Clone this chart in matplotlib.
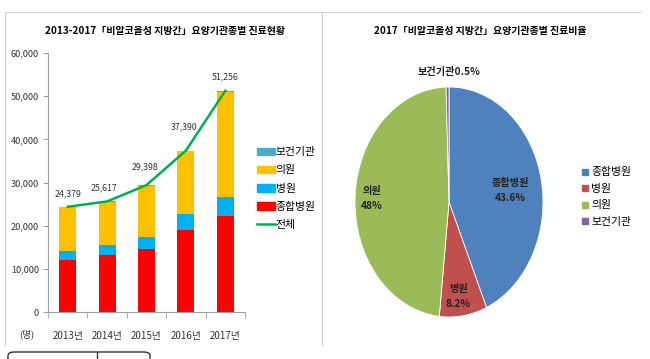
import matplotlib.pyplot as plt
import numpy as np
from matplotlib.patches import Patch, FancyBboxPatch
from matplotlib.lines import Line2D

plt.rcParams['font.family'] = ['Noto Sans CJK KR', 'DejaVu Sans']

# data
years = ['2013년', '2014년', '2015년', '2016년', '2017년']
general = [12000, 13100, 14700, 18900, 22350]   # 종합병원
hospital = [2200, 2500, 2700, 3700, 4200]       # 병원
clinic = [10030, 9860, 11830, 14600, 24450]     # 의원
health = [149, 157, 168, 190, 256]              # 보건기관
total = [24379, 25617, 29398, 37390, 51256]     # 전체

pie_labels = ['종합병원', '병원', '의원', '보건기관']
pie_values = [43.6, 8.2, 48.0, 0.5]

c_general = '#FF0000'
c_hosp = '#00B0F0'
c_clinic = '#FFC000'
c_health = '#4BACC6'
c_line = '#00B050'

fig = plt.figure(figsize=(6.5, 3.59), dpi=100)
W, H = 650, 359

def fx(px):
    return px / W

def fy(py):
    return 1 - py / H

# frame lines
border = '#D0D0D0'
fig.add_artist(Line2D([fx(5), fx(640)], [fy(12), fy(12)], color=border, lw=0.8))
fig.add_artist(Line2D([fx(5), fx(5)], [fy(12), fy(345)], color=border, lw=0.8))
fig.add_artist(Line2D([fx(322), fx(322)], [fy(12), fy(345)], color=border, lw=0.8))
fig.add_artist(FancyBboxPatch((fx(8), fy(366)), fx(142), 14 / H, boxstyle='round,pad=0,rounding_size=0.01',
                              transform=fig.transFigure, fill=False, ec='#333333', lw=1.0))
fig.add_artist(Line2D([fx(97), fx(97)], [fy(352), fy(359)], color='#333333', lw=1.0))

# ---- bar chart ----
ax = fig.add_axes([fx(48), fy(312), fx(245) - fx(48), (312 - 53) / H])
x = np.arange(len(years))
bw = 0.43
b1 = np.array(general)
b2 = b1 + np.array(hospital)
b3 = b2 + np.array(clinic)
ax.bar(x, general, bw, color=c_general, zorder=2)
ax.bar(x, hospital, bw, bottom=b1, color=c_hosp, zorder=2)
ax.bar(x, clinic, bw, bottom=b2, color=c_clinic, zorder=2)
ax.bar(x, health, bw, bottom=b3, color=c_health, zorder=2)
ax.plot(x, total, color=c_line, lw=1.8, zorder=3)
# label offsets above the points (points)
offs = [(0, 9), (-2, 10), (-1, 13), (-1, 17), (0, 10)]
for xi, t, o in zip(x, total, offs):
    ax.annotate(f'{t:,}', (xi, t), xytext=o, textcoords='offset points',
                ha='center', va='center', fontsize=6.3, color='#333333')

ax.set_xlim(-0.5, 4.5)
ax.set_ylim(0, 60000)
ax.set_yticks(range(0, 60001, 10000))
ax.set_yticklabels([f'{v:,}' for v in range(0, 60001, 10000)], fontsize=6.6, color='#333333')
ax.set_xticks(x)
ax.set_xticklabels(years, fontsize=7, color='#333333')
ax.set_xticks(np.arange(-0.5, 5, 1), minor=True)
ax.tick_params(axis='x', which='major', length=0, pad=14)
ax.tick_params(axis='x', which='minor', length=4, color='#A0A0A0')
ax.tick_params(axis='y', length=3.5, color='#A0A0A0', pad=3)
for s in ['top', 'right']:
    ax.spines[s].set_visible(False)
ax.spines['left'].set_color('#A0A0A0')
ax.spines['bottom'].set_color('#A0A0A0')
fig.text(fx(27), fy(334), '(명)', fontsize=6.8, ha='center', va='center', color='#333333')
fig.text(fx(165), fy(31), '2013-2017「비알코올성 지방간」요양기관종별 진료현황', fontsize=7.2,
         fontweight='bold', ha='center', va='center')

handles = [Patch(color=c_health), Patch(color=c_clinic), Patch(color=c_hosp),
           Patch(color=c_general), Line2D([], [], color=c_line, lw=1.8)]
names = ['보건기관', '의원', '병원', '종합병원', '전체']
fig.legend(handles, names, loc='upper left', bbox_to_anchor=(fx(253), fy(143)), frameon=False,
           fontsize=7.8, handlelength=1.6, handleheight=0.7, handletextpad=0.1,
           labelspacing=0.75, borderaxespad=0)

# ---- pie chart ----
pie_colors = ['#4F81BD', '#C0504D', '#9BBB59', '#8064A2']
pax = fig.add_axes([fx(355), fy(317), fx(543) - fx(355), (317 - 87) / H])
wedges, _ = pax.pie(pie_values, colors=pie_colors, startangle=90, counterclock=False,
                    wedgeprops=dict(linewidth=0.6, edgecolor='white'))
pax.set_aspect('auto')
pax.set_xlim(-1, 1)
pax.set_ylim(-1, 1)
lbl = dict(fontsize=7.3, fontweight='bold', ha='center', va='center', color='#222222')
pax.text(0.65, 0.10, '종합병원\n43.6%', linespacing=1.6, **lbl)
pax.text(0.10, -0.82, '병원\n8.2%', linespacing=1.6, **lbl)
pax.text(-0.82, 0.03, '의원\n48%', linespacing=1.6, **lbl)
pax.text(0.0, 1.13, '보건기관0.5%', clip_on=False, **lbl)
fig.text(fx(480), fy(31), '2017「비알코올성 지방간」요양기관종별 진료비율', fontsize=7.2,
         fontweight='bold', ha='center', va='center')

pie_handles = [Line2D([], [], marker='s', ls='none', color=c, markersize=5) for c in pie_colors]
fig.legend(pie_handles, pie_labels, loc='upper left', bbox_to_anchor=(fx(577), fy(163)), frameon=False,
           fontsize=7.8, handlelength=0.6, handletextpad=0.3, labelspacing=0.6, borderaxespad=0)

fig.savefig('out.png', dpi=100)
